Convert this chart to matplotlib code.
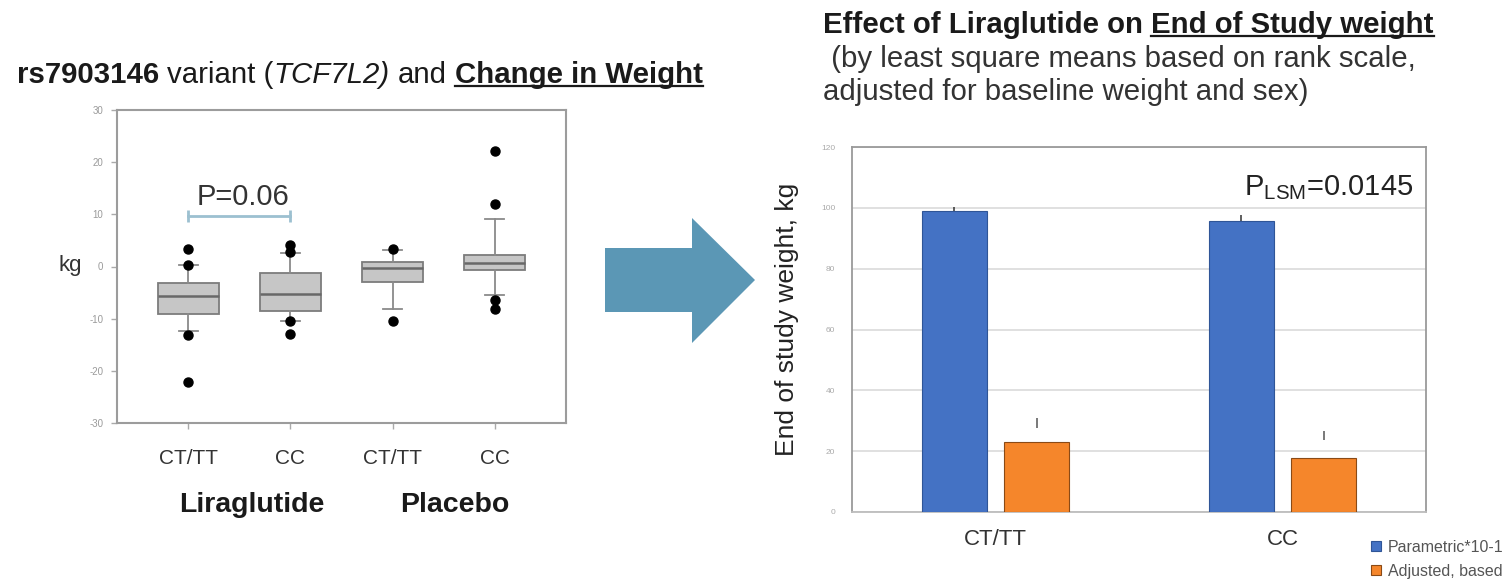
import matplotlib
matplotlib.use("Agg")
import matplotlib.pyplot as plt
from matplotlib.patches import Polygon
from matplotlib.lines import Line2D
import numpy as np

W, H, DPI = 1509, 579, 100

# ---- left panel: change in weight by rs7903146 genotype ----
box_labels = ["CT/TT", "CC", "CT/TT", "CC"]
box_groups = ["Liraglutide", "Placebo"]
box_q1 = [-9.1, -8.6, -2.9, -0.7]
box_med = [-5.7, -5.2, -0.25, 0.6]
box_q3 = [-3.1, -1.3, 0.8, 2.2]
whisker_lo = [-12.3, -10.5, -8.1, -5.4]
whisker_hi = [0.2, 2.6, 3.1, 9.1]
outliers = [[3.3, 0.3, -13.2, -22.1],
            [4.1, 2.8, -10.5, -12.9],
            [3.4, -10.5],
            [22.2, 12.0, -6.5, -8.1]]
left_yticks = [-30, -20, -10, 0, 10, 20, 30]
left_p_text = "P=0.06"
bracket_level = 9.6

# ---- right panel: end of study weight ----
bar_cats = ["CT/TT", "CC"]
parametric = [98.9, 95.6]
parametric_err = [1.5, 2.1]
adjusted = [23.0, 17.7]
adjusted_tick_lo = [27.7, 23.8]
adjusted_tick_hi = [31.0, 26.5]
right_yticks = [0, 20, 40, 60, 80, 100, 120]
legend_labels = ["Parametric*10-1", "Adjusted, based"]
right_p_text = r"$\mathregular{P_{LSM}}$=0.0145"

plt.rcParams["font.family"] = ["Liberation Sans", "DejaVu Sans"]
plt.rcParams["mathtext.fontset"] = "custom"
plt.rcParams["mathtext.rm"] = "Liberation Sans"
plt.rcParams["mathtext.it"] = "Liberation Sans:italic"
plt.rcParams["mathtext.bf"] = "Liberation Sans:bold"

TITLE_SIZE = 21.2

fig = plt.figure(figsize=(W / DPI, H / DPI), dpi=DPI)
fig.patch.set_facecolor("white")


def fx(px):
    return px / W


def fy(py):
    return 1 - py / H


# ---------------- left box plot ----------------
axL = fig.add_axes([fx(117), fy(423), (566 - 117) / W, (423 - 110) / H])
positions = np.arange(1, len(box_labels) + 1)
stats = [dict(med=m, q1=a, q3=b, whislo=lo, whishi=hi, fliers=f)
         for m, a, b, lo, hi, f in zip(box_med, box_q1, box_q3,
                                       whisker_lo, whisker_hi, outliers)]
axL.bxp(stats, positions=positions, widths=0.6, capwidths=0.18,
        patch_artist=True,
        boxprops=dict(facecolor="#c6c6c6", edgecolor="#7c7c7c", linewidth=1.3),
        medianprops=dict(color="#686868", linewidth=1.8),
        whiskerprops=dict(color="#8a8a8a", linewidth=1.3),
        capprops=dict(color="#8a8a8a", linewidth=1.3),
        flierprops=dict(marker="o", markerfacecolor="black",
                        markeredgecolor="black", markersize=6.5))
axL.set_xlim(0.3, 4.7)
axL.set_ylim(left_yticks[0], left_yticks[-1])
axL.set_yticks(left_yticks)
axL.set_yticklabels([str(v) for v in left_yticks])
axL.set_xticks(positions)
axL.set_xticklabels(box_labels)
axL.tick_params(axis="y", direction="out", length=4, width=1, color="#aaaaaa",
                labelsize=7, labelcolor="#9a9a9a", pad=6)
axL.tick_params(axis="x", direction="out", length=4, width=1, color="#aaaaaa",
                labelsize=15, labelcolor="#333333", pad=15)
for sp in axL.spines.values():
    sp.set_color("#9c9c9c")
    sp.set_linewidth(1.5)

# comparison bracket between the two liraglutide groups
axL.plot([positions[0], positions[1]], [bracket_level, bracket_level],
         color="#9cc0d0", lw=2, marker="|", markersize=9, mew=2)
axL.text((positions[0] + positions[1]) / 2 + 0.03, 13.3, left_p_text,
         ha="center", va="center", fontsize=21, color="#333333")

fig.text(fx(70), fy(266), "kg", ha="center", va="center", fontsize=16,
         color="#333333")
fig.text(fx(252), fy(505), box_groups[0], ha="center", va="center",
         fontsize=20.5, fontweight="bold", color="#1a1a1a")
fig.text(fx(455), fy(505), box_groups[1], ha="center", va="center",
         fontsize=20.5, fontweight="bold", color="#1a1a1a")

# ---------------- right bar chart ----------------
axR = fig.add_axes([fx(852), fy(512), (1426 - 852) / W, (512 - 147) / H])
xc = np.arange(len(bar_cats))
bw, off = 0.227, 0.143
b_par = axR.bar(xc - off, parametric, bw, color="#4472c4",
                edgecolor="#2f5597", linewidth=0.8, zorder=3)
b_adj = axR.bar(xc + off, adjusted, bw, color="#f5862b",
                edgecolor="#8a4a16", linewidth=0.8, zorder=3)
axR.errorbar(xc - off, parametric, yerr=[np.zeros(len(xc)), parametric_err],
             fmt="none", ecolor="#333333", elinewidth=1.1, capsize=0, zorder=4)
axR.vlines(xc + off, adjusted_tick_lo, adjusted_tick_hi, color="#555555",
           lw=1.1, zorder=4)
axR.set_xlim(-0.5, 1.5)
axR.set_ylim(right_yticks[0], right_yticks[-1])
axR.set_yticks(right_yticks)
axR.set_xticks(xc)
axR.set_xticklabels(bar_cats)
axR.yaxis.grid(True, color="#dadada", lw=1.2, zorder=0)
axR.set_axisbelow(True)
axR.tick_params(axis="y", length=0, labelsize=6, labelcolor="#aaaaaa", pad=12)
axR.tick_params(axis="x", length=0, labelsize=16, labelcolor="#333333", pad=12)
for sp in axR.spines.values():
    sp.set_color("#9a9a9a")
    sp.set_linewidth(1.3)
axR.spines["bottom"].set_color("#bdbdbd")
axR.text(1.455, 104.2, right_p_text, ha="right", va="baseline", fontsize=21,
         color="#222222")

fig.text(fx(787), fy(319), "End of study weight, kg", rotation=90,
         ha="center", va="center", fontsize=19, color="#222222")

fig.legend([b_par, b_adj], legend_labels, loc="upper left",
           bbox_to_anchor=(fx(1371), fy(540)), frameon=False, fontsize=11.5,
           handlelength=0.6, handleheight=0.6, handletextpad=0.45,
           labelspacing=0.55, borderpad=0, borderaxespad=0,
           labelcolor="#555555")

# ---------------- arrow between the panels ----------------
arrow_px = [(605, 248), (692, 248), (692, 218), (755, 280),
            (692, 343), (692, 312), (605, 312)]
fig.patches.append(Polygon([(fx(x), fy(y)) for x, y in arrow_px], closed=True,
                           transform=fig.transFigure, facecolor="#5b97b5",
                           edgecolor="none"))

# ---------------- titles made of styled runs ----------------
renderer = fig.canvas.get_renderer()


def space_width(size, weight):
    a = fig.text(0, 0, "a a", fontsize=size, fontweight=weight)
    b = fig.text(0, 0, "aa", fontsize=size, fontweight=weight)
    w = a.get_window_extent(renderer).width - b.get_window_extent(renderer).width
    a.remove()
    b.remove()
    return w


def text_runs(x_px, base_px, runs, size, color="#1a1a1a"):
    x = x_px
    for txt, weight, style, underline, gap in runs:
        if gap:
            x += space_width(size, weight)
        t = fig.text(fx(x), fy(base_px), txt, fontsize=size, fontweight=weight,
                     fontstyle=style, color=color, ha="left", va="baseline")
        bb = t.get_window_extent(renderer)
        if underline:
            fig.lines.append(Line2D([fx(bb.x0), fx(bb.x1)],
                                    [fy(base_px + 3), fy(base_px + 3)],
                                    transform=fig.transFigure, color=color,
                                    lw=1.6))
        x = bb.x1


text_runs(17, 83, [("rs7903146", "bold", "normal", False, False),
                   ("variant (", "normal", "normal", False, True),
                   ("TCF7L2)", "normal", "italic", False, False),
                   ("and", "normal", "normal", False, True),
                   ("Change in Weight", "bold", "normal", True, True)],
          TITLE_SIZE)

text_runs(823, 33, [("Effect of Liraglutide on", "bold", "normal", False, False),
                    ("End of Study weight", "bold", "normal", True, True)],
          TITLE_SIZE)
fig.text(fx(823), fy(67), " (by least square means based on rank scale,",
         fontsize=TITLE_SIZE, color="#333333", ha="left", va="baseline")
fig.text(fx(823), fy(100), "adjusted for baseline weight and sex)",
         fontsize=TITLE_SIZE, color="#333333", ha="left", va="baseline")

fig.savefig("out.png", dpi=DPI, facecolor="white")
